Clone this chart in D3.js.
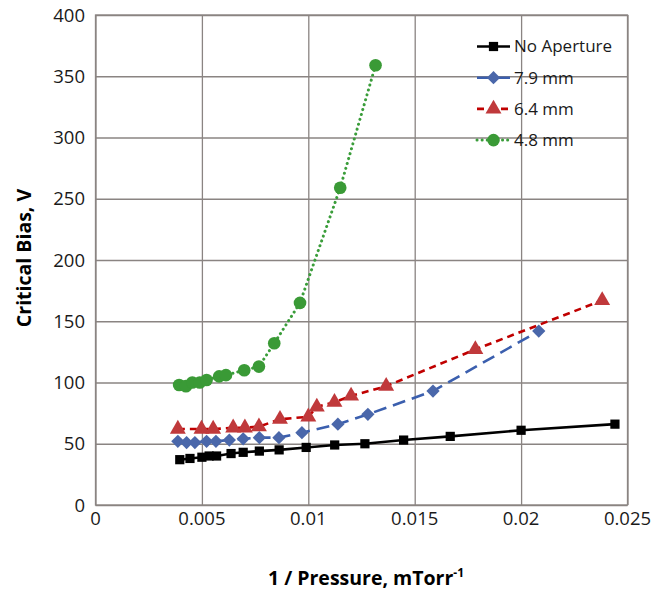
<!DOCTYPE html>
<html>
<head>
<meta charset="utf-8">
<script src="https://cdn.jsdelivr.net/npm/d3@7"></script>
<style>
  body { margin: 0; background: #fff; }
  svg { font-family: "Open Sans", Lato, sans-serif; }
</style>
</head>
<body>
<svg id="chart" width="653" height="594"></svg>
<script>
// data
const noApX = [0.00396, 0.00444, 0.0050, 0.00534, 0.00569, 0.00637, 0.00694, 0.0077, 0.00863, 0.0099, 0.01124, 0.01266, 0.01448, 0.01667, 0.0200, 0.02441];
const noApY = [37, 38, 39, 40, 40, 42, 43, 44, 45, 47, 49, 50, 53, 56, 61, 66];

const ap79X = [0.00387, 0.00428, 0.00467, 0.00522, 0.00566, 0.00629, 0.00694, 0.0077, 0.00862, 0.0097, 0.01139, 0.0128, 0.01586, 0.02083];
const ap79Y = [52, 51, 51, 52, 52, 53, 54, 55, 55, 59, 66, 74, 93, 142];

const ap64X = [0.00387, 0.00498, 0.00553, 0.00647, 0.00702, 0.00768, 0.00867, 0.0100, 0.0104, 0.01123, 0.01201, 0.01366, 0.01785, 0.02381];
const ap64Y = [62, 62, 62, 63, 63, 64, 70, 72, 80, 84, 89, 97, 127, 167];

const ap48X = [0.00393, 0.00425, 0.00455, 0.0049, 0.00522, 0.00581, 0.00613, 0.00699, 0.00768, 0.0084, 0.00961, 0.0115, 0.01316];
const ap48Y = [98, 97, 100, 100, 102, 105, 106, 110, 113, 132, 165, 259, 359];

const seriesNames = ["No Aperture", "7.9 mm", "6.4 mm", "4.8 mm"];
const xTicks = [0, 0.005, 0.01, 0.015, 0.02, 0.025];
const yTicks = [0, 50, 100, 150, 200, 250, 300, 350, 400];

const series = [
  { name: seriesNames[0], xs: noApX, ys: noApY, line: "#000", fill: "#000", dash: null, sym: d3.symbolSquare, size: 85, rot: 0, cap: "butt" },
  { name: seriesNames[1], xs: ap79X, ys: ap79Y, line: "#3b5fae", fill: "#4a67aa", dash: "13,7", sym: d3.symbolSquare, size: 88, rot: 45, cap: "butt" },
  { name: seriesNames[2], xs: ap64X, ys: ap64Y, line: "#c00000", fill: "#c0393b", dash: "7,5", sym: d3.symbolTriangle, size: 110, rot: 0, cap: "butt" },
  { name: seriesNames[3], xs: ap48X, ys: ap48Y, line: "#3a9d3a", fill: "#3a9a36", dash: "0.1,5", sym: d3.symbolCircle, size: 125, rot: 0, cap: "round" }
];

const plotLeft = 95.5, plotRight = 627.5, plotTop = 15, plotBottom = 505;

const svg = d3.select("#chart");

const x = d3.scaleLinear().domain([0, 0.025]).range([plotLeft, plotRight]);
const y = d3.scaleLinear().domain([0, 400]).range([plotBottom, plotTop]);

// grid
svg.append("g")
  .attr("transform", `translate(0,${plotBottom})`)
  .call(d3.axisBottom(x).tickValues(xTicks).tickSize(-(plotBottom - plotTop)).tickFormat(""))
  .call(g => g.select(".domain").remove())
  .selectAll("line").attr("stroke", "#8a8482").attr("stroke-width", 1.3);

svg.append("g")
  .attr("transform", `translate(${plotLeft},0)`)
  .call(d3.axisLeft(y).tickValues(yTicks).tickSize(-(plotRight - plotLeft)).tickFormat(""))
  .call(g => g.select(".domain").remove())
  .selectAll("line").attr("stroke", "#8a8482").attr("stroke-width", 1.3);

svg.append("rect")
  .attr("x", plotLeft).attr("y", plotTop)
  .attr("width", plotRight - plotLeft).attr("height", plotBottom - plotTop)
  .attr("fill", "none").attr("stroke", "#8a8482").attr("stroke-width", 1.3);

// tick labels
svg.append("g").selectAll("text").data(yTicks).join("text")
  .attr("x", 85).attr("y", d => y(d)).attr("dy", "0.36em")
  .attr("text-anchor", "end").attr("font-size", 18.5).attr("fill", "#1a1a1a")
  .text(d => d);

svg.append("g").selectAll("text").data(xTicks).join("text")
  .attr("x", d => x(d)).attr("y", 525)
  .attr("text-anchor", "middle").attr("font-size", 18.5).attr("fill", "#1a1a1a")
  .text(d => d);

// axis titles
svg.append("text")
  .attr("transform", `translate(31, 258) rotate(-90)`)
  .attr("text-anchor", "middle").attr("font-size", 19.5).attr("font-weight", "bold")
  .text("Critical Bias, V");

const xt = svg.append("text")
  .attr("x", 366).attr("y", 585)
  .attr("text-anchor", "middle").attr("font-size", 19.5).attr("font-weight", "bold");
xt.append("tspan").text("1 / Pressure, mTorr");
xt.append("tspan").attr("dy", -8).attr("font-size", 12).text("-1");

// series lines + markers
const line = d3.line().x(d => x(d[0])).y(d => y(d[1]));

series.forEach(s => {
  const pts = s.xs.map((v, i) => [v, s.ys[i]]);
  svg.append("path")
    .datum(pts)
    .attr("d", line)
    .attr("fill", "none")
    .attr("stroke", s.line)
    .attr("stroke-width", s.cap === "round" ? 3 : 2.6)
    .attr("stroke-linecap", s.cap)
    .attr("stroke-dasharray", s.dash);
  svg.append("g").selectAll("path").data(pts).join("path")
    .attr("transform", d => `translate(${x(d[0])},${y(d[1])}) rotate(${s.rot})`)
    .attr("d", d3.symbol().type(s.sym).size(s.size))
    .attr("fill", s.fill);
});

// legend
const legend = svg.append("g");
series.forEach((s, i) => {
  const ly = 46.5 + i * 31.2;
  legend.append("line")
    .attr("x1", 477).attr("x2", 510).attr("y1", ly).attr("y2", ly)
    .attr("stroke", s.line).attr("stroke-width", s.cap === "round" ? 3 : 2.6)
    .attr("stroke-linecap", s.cap)
    .attr("stroke-dasharray", s.dash);
  legend.append("path")
    .attr("transform", `translate(493.5,${ly}) rotate(${s.rot})`)
    .attr("d", d3.symbol().type(s.sym).size(s.size))
    .attr("fill", s.fill);
  legend.append("text")
    .attr("x", 514).attr("y", ly).attr("dy", "0.35em")
    .attr("font-size", 17).attr("fill", "#1a1a1a")
    .text(s.name);
});
</script>
</body>
</html>
